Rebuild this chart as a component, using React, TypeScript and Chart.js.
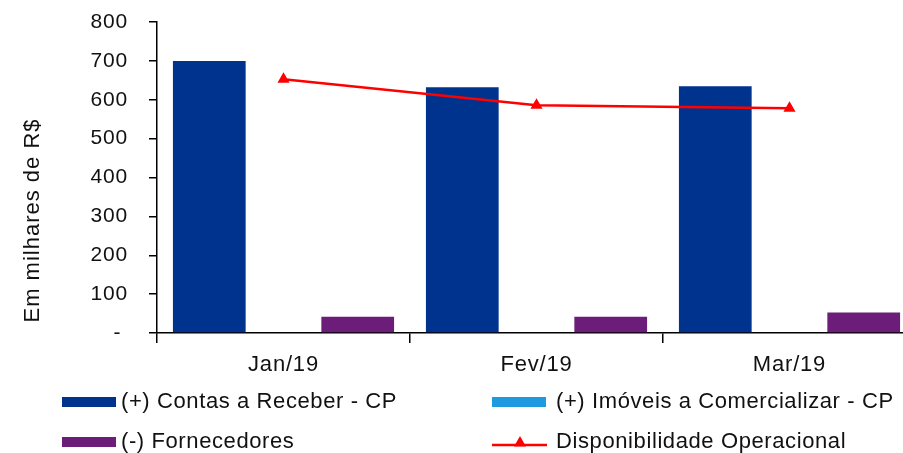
import React, { useEffect, useRef } from "react";
import { Chart, registerables } from "chart.js";

Chart.register(...registerables);

const categories = ["Jan/19", "Fev/19", "Mar/19"];
const seriesNames = [
  "(+) Contas a Receber - CP",
  "(+) Imóveis a Comercializar - CP",
  "(-) Fornecedores",
  "Disponibilidade Operacional",
];
const contasReceber = [700, 632, 635];
const imoveisComercializar = [0, 0, 0];
const fornecedores = [42, 42, 53];
const disponibilidade = [653, 586, 578];
const yMin = 0;
const yMax = 800;
const yStep = 100;
const yTitle = "Em milhares de R$";

const NAVY = "#00338D";
const LIGHT_BLUE = "#1E9BE0";
const PURPLE = "#6C1D7A";
const RED = "#FF0000";
const TEXT = "#111111";
const FONT = "'Liberation Sans', Arial, sans-serif";

const W = 930;
const H = 453;

const customPlugin = {
  id: "customDecor",
  beforeDraw(chart: any) {
    chart.ctx.letterSpacing = "0.8px";
  },
  afterDraw(chart: any) {
    const ctx = chart.ctx as CanvasRenderingContext2D;
    const area = chart.chartArea;
    ctx.save();
    // y axis title
    ctx.letterSpacing = "1px";
    ctx.fillStyle = TEXT;
    ctx.font = `22px ${FONT}`;
    ctx.textAlign = "center";
    ctx.textBaseline = "middle";
    ctx.translate(area.left - 124, (area.top + area.bottom) / 2 + 43);
    ctx.rotate(-Math.PI / 2);
    ctx.fillText(yTitle, 0, 0);
    ctx.restore();

    // legend in 2 columns
    ctx.save();
    ctx.letterSpacing = "0.6px";
    ctx.font = `22px ${FONT}`;
    ctx.textAlign = "left";
    ctx.textBaseline = "alphabetic";
    const colBox = [62, 492];
    const colText = [121, 556];
    const rowBase = [408, 448];
    const ds = chart.data.datasets;
    ds.forEach((d: any, i: number) => {
      const col = i % 2;
      const row = Math.floor(i / 2);
      const bx = colBox[col];
      const by = rowBase[row];
      if (d.type === "line") {
        ctx.strokeStyle = d.borderColor;
        ctx.lineWidth = 2.5;
        ctx.beginPath();
        ctx.moveTo(bx, by - 3);
        ctx.lineTo(bx + 55, by - 3);
        ctx.stroke();
        const cx = bx + 28;
        const cy = by - 5;
        const r = 7;
        ctx.fillStyle = d.pointBackgroundColor;
        ctx.beginPath();
        ctx.moveTo(cx, cy - r);
        ctx.lineTo(cx + r * Math.sin((2 * Math.PI) / 3), cy - r * Math.cos((2 * Math.PI) / 3));
        ctx.lineTo(cx + r * Math.sin((4 * Math.PI) / 3), cy - r * Math.cos((4 * Math.PI) / 3));
        ctx.closePath();
        ctx.fill();
      } else {
        ctx.fillStyle = d.backgroundColor;
        ctx.fillRect(bx, by - 11, 54, 10);
      }
      ctx.fillStyle = TEXT;
      ctx.fillText(d.label, colText[col], by);
    });
    ctx.restore();
  },
};

export default function App() {
  const canvasRef = useRef<HTMLCanvasElement | null>(null);

  useEffect(() => {
    const canvas = canvasRef.current;
    if (!canvas) return;
    const chart = new Chart(canvas, {
      type: "bar",
      data: {
        labels: categories,
        datasets: [
          {
            type: "bar",
            label: seriesNames[0],
            data: contasReceber,
            backgroundColor: NAVY,
            order: 1,
            categoryPercentage: 0.88,
            barPercentage: 0.98,
          },
          {
            type: "bar",
            label: seriesNames[1],
            data: imoveisComercializar,
            backgroundColor: LIGHT_BLUE,
            order: 1,
            categoryPercentage: 0.88,
            barPercentage: 0.98,
          },
          {
            type: "bar",
            label: seriesNames[2],
            data: fornecedores,
            backgroundColor: PURPLE,
            order: 1,
            categoryPercentage: 0.88,
            barPercentage: 0.98,
          },
          {
            type: "line",
            label: seriesNames[3],
            data: disponibilidade,
            borderColor: RED,
            borderWidth: 2.5,
            pointStyle: "triangle",
            pointRadius: 7,
            pointBackgroundColor: RED,
            pointBorderColor: RED,
            pointBorderWidth: 0,
            tension: 0,
            order: 0,
          } as any,
        ],
      },
      options: {
        animation: false,
        responsive: false,
        devicePixelRatio: 1,
        layout: { padding: { left: 0, top: 22, right: 14, bottom: 0 } },
        plugins: {
          legend: { display: false },
          tooltip: { enabled: false },
          title: { display: false },
        },
        scales: {
          x: {
            offset: true,
            afterFit: (scale: any) => {
              scale.height = 120;
              scale.paddingLeft = 0;
              scale.paddingRight = 0;
            },
            grid: {
              offset: true,
              drawOnChartArea: false,
              drawTicks: true,
              tickLength: 10,
              color: "#000",
              lineWidth: 1.5,
            },
            border: { color: "#000", width: 1.5 },
            ticks: {
              color: TEXT,
              font: { family: FONT, size: 22 },
              padding: 9,
              maxRotation: 0,
            },
          },
          y: {
            min: yMin,
            max: yMax,
            afterFit: (scale: any) => {
              scale.width = 157;
              scale.paddingTop = 0;
              scale.paddingBottom = 0;
            },
            grid: {
              drawOnChartArea: false,
              drawTicks: true,
              tickLength: 8,
              color: "#000",
              lineWidth: 1.5,
            },
            border: { color: "#000", width: 1.5 },
            ticks: {
              stepSize: yStep,
              color: TEXT,
              font: { family: FONT, size: 21 },
              padding: 21,
              callback: (v: any) => (Number(v) === 0 ? "- " : String(v)),
            },
          },
        },
      },
      plugins: [customPlugin],
    } as any);
    return () => chart.destroy();
  }, []);

  return (
    <div style={{ width: W, height: H, overflow: "hidden", position: "relative" }}>
      <style>{"html,body{margin:0;padding:0;overflow:hidden;background:#fff;}"}</style>
      <canvas ref={canvasRef} width={W} height={H} style={{ width: W, height: H, display: "block" }} />
    </div>
  );
}
